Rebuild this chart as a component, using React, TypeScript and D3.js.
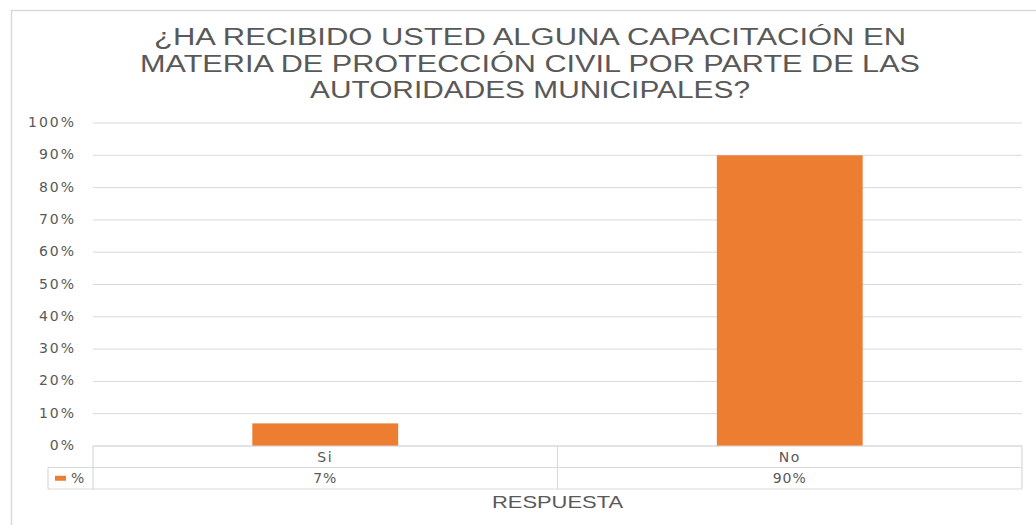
import React from "react";
import * as d3 from "d3";

const titleLines = [
  "¿HA RECIBIDO USTED ALGUNA CAPACITACIÓN EN",
  "MATERIA DE PROTECCIÓN CIVIL POR PARTE DE LAS",
  "AUTORIDADES MUNICIPALES?",
];
const categories = ["Si", "No"];
const values = [0.07, 0.9];
const valueLabels = ["7%", "90%"];
const yTicks = [0, 0.1, 0.2, 0.3, 0.4, 0.5, 0.6, 0.7, 0.8, 0.9, 1.0];
const seriesName = "%";
const xTitle = "RESPUESTA";

const W = 1036;
const H = 525;
const left = 93;
const right = 1022;
const top = 123;
const bottom = 446;
const rowH = 21.5;
const grey = "#595959";
const gridColor = "#d9d9d9";
const orange = "#ED7D31";
const font = "'DejaVu Sans', sans-serif";
const titleFont = "'Liberation Sans', Arial, sans-serif";

export default function App() {
  const x = d3.scaleBand<string>().domain(categories).range([left, right]).padding(0);
  const y = d3.scaleLinear().domain([0, 1]).range([bottom, top]);
  const fmt = d3.format(".0%");
  const barW = x.bandwidth() * 0.314;
  const titleWidths = [752, 780, 440];
  const cx = 530;

  return (
    <svg width={W} height={H} style={{ position: "absolute", left: 0, top: 0, background: "#fff" }}>
      <rect x={0} y={0} width={W} height={H} fill="#fff" />
      {/* chart border */}
      <path d={`M11.5,${H} V10.5 H${W}`} fill="none" stroke={gridColor} strokeWidth={1.5} />
      {/* title */}
      {titleLines.map((t, i) => (
        <text
          key={i}
          x={cx}
          y={45 + i * 26.5}
          textAnchor="middle"
          fontFamily={titleFont}
          fontSize={23.5}
          fill={grey}
          textLength={titleWidths[i]}
          lengthAdjust="spacingAndGlyphs"
        >
          {t}
        </text>
      ))}
      {/* gridlines */}
      {yTicks.map((t) => (
        <line key={t} x1={left} x2={right} y1={y(t)} y2={y(t)} stroke={gridColor} strokeWidth={1} />
      ))}
      {/* y tick labels */}
      {yTicks.map((t) => (
        <text
          key={"l" + t}
          x={76}
          y={y(t)}
          textAnchor="end"
          dominantBaseline="middle"
          fontFamily={font}
          fontSize={14}
          letterSpacing={2}
          fill={grey}
        >
          {fmt(t)}
        </text>
      ))}
      {/* bars */}
      {categories.map((c, i) => (
        <rect
          key={c}
          x={(x(c) as number) + x.bandwidth() / 2 - barW / 2}
          y={y(values[i])}
          width={barW}
          height={y(0) - y(values[i])}
          fill={orange}
        />
      ))}
      {/* data table */}
      <g fill="none" stroke={gridColor} strokeWidth={1.2}>
        <line x1={left} x2={right} y1={bottom} y2={bottom} />
        <line x1={48} x2={right} y1={bottom + rowH} y2={bottom + rowH} />
        <line x1={48} x2={right} y1={bottom + 2 * rowH} y2={bottom + 2 * rowH} />
        <line x1={48} x2={48} y1={bottom + rowH} y2={bottom + 2 * rowH} />
        {categories.map((c) => (
          <line key={c} x1={x(c) as number} x2={x(c) as number} y1={bottom} y2={bottom + 2 * rowH} />
        ))}
        <line x1={right} x2={right} y1={bottom} y2={bottom + 2 * rowH} />
      </g>
      {categories.map((c, i) => (
        <g key={"t" + c}>
          <text
            x={(x(c) as number) + x.bandwidth() / 2}
            y={bottom + rowH / 2 + 1}
            textAnchor="middle"
            dominantBaseline="middle"
            fontFamily={font}
            fontSize={14}
            letterSpacing={1.5}
            fill={grey}
          >
            {c}
          </text>
          <text
            x={(x(c) as number) + x.bandwidth() / 2}
            y={bottom + rowH * 1.5 + 1}
            textAnchor="middle"
            dominantBaseline="middle"
            fontFamily={font}
            fontSize={14}
            letterSpacing={1}
            fill={grey}
          >
            {valueLabels[i]}
          </text>
        </g>
      ))}
      <rect x={55} y={bottom + rowH * 1.5 - 2.5} width={11} height={5} fill={orange} />
      <text
        x={71}
        y={bottom + rowH * 1.5 + 1}
        dominantBaseline="middle"
        fontFamily={font}
        fontSize={14}
        fill={grey}
      >
        {seriesName}
      </text>
      {/* x axis title */}
      <text
        x={(left + right) / 2}
        y={508}
        textAnchor="middle"
        fontFamily={titleFont}
        fontSize={17}
        fill={grey}
        textLength={131}
        lengthAdjust="spacingAndGlyphs"
      >
        {xTitle}
      </text>
    </svg>
  );
}
